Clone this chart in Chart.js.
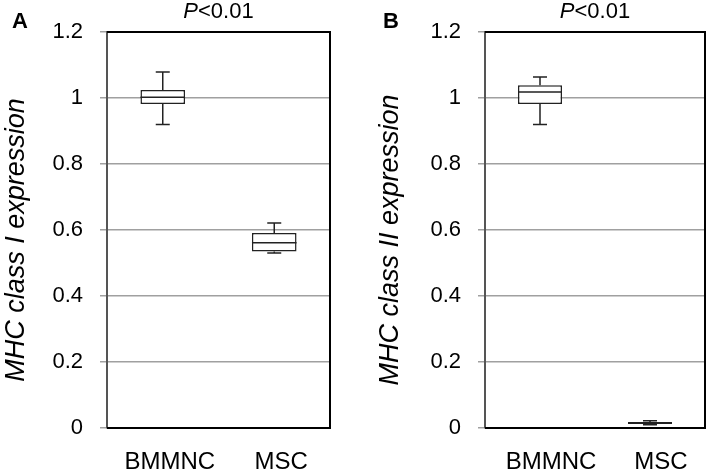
<!DOCTYPE html>
<html>
<head>
<meta charset="utf-8">
<script src="https://cdn.jsdelivr.net/npm/chart.js@4.4.1/dist/chart.umd.min.js"></script>
<style>
  html, body { margin: 0; padding: 0; background: #fff; }
  #wrap { position: relative; width: 709px; height: 470px; }
  canvas { position: absolute; top: 0; }
</style>
</head>
<body>
<div id="wrap">
  <canvas id="chartA" width="354" height="470" style="left:0"></canvas>
  <canvas id="chartB" width="333" height="470" style="left:376px"></canvas>
</div>
<script>
const categories = ["BMMNC", "MSC"];
const yTicks = [0, 0.2, 0.4, 0.6, 0.8, 1, 1.2];

// panel A - MHC class I
const minA = [0.92, 0.53];
const q1A = [0.982, 0.535];
const medA = [1.002, 0.561];
const q3A = [1.024, 0.591];
const maxA = [1.079, 0.621];

// panel B - MHC class II
const minB = [0.92, 0.01];
const q1B = [0.982, 0.012];
const medB = [1.018, 0.015];
const q3B = [1.039, 0.018];
const maxB = [1.064, 0.022];

const FONT = "'Liberation Sans', Arial, sans-serif";

// whiskers, medians, frame, axis title, panel letter and P value
const boxExtras = {
  id: "boxExtras",
  afterDatasetsDraw(chart, args, opts) {
    const ctx = chart.ctx;
    const y = chart.scales.y;
    const area = chart.chartArea;
    const meta = chart.getDatasetMeta(0);
    ctx.save();
    ctx.strokeStyle = "#222";
    ctx.lineWidth = 1.5;
    meta.data.forEach((bar, i) => {
      const x = bar.x;
      const half = bar.width / 2;
      const cap = 7;
      const yMin = y.getPixelForValue(opts.min[i]);
      const yMax = y.getPixelForValue(opts.max[i]);
      const yQ1 = y.getPixelForValue(opts.q1[i]);
      const yQ3 = y.getPixelForValue(opts.q3[i]);
      const yMed = y.getPixelForValue(opts.med[i]);
      ctx.beginPath();
      ctx.moveTo(x, yQ3); ctx.lineTo(x, yMax);
      ctx.moveTo(x - cap, yMax); ctx.lineTo(x + cap, yMax);
      ctx.moveTo(x, yQ1); ctx.lineTo(x, yMin);
      ctx.moveTo(x - cap, yMin); ctx.lineTo(x + cap, yMin);
      ctx.moveTo(x - half, yMed); ctx.lineTo(x + half, yMed);
      ctx.stroke();
    });
    // frame top / right / bottom
    ctx.strokeStyle = "#000";
    ctx.lineWidth = 2;
    ctx.beginPath();
    ctx.moveTo(area.left, area.top);
    ctx.lineTo(area.right, area.top);
    ctx.lineTo(area.right, area.bottom);
    ctx.lineTo(area.left, area.bottom);
    ctx.stroke();
    ctx.fillStyle = "#000";
    // y axis title
    ctx.save();
    ctx.translate(opts.titleX, 240);
    ctx.rotate(-Math.PI / 2);
    ctx.textAlign = "center";
    ctx.textBaseline = "middle";
    ctx.font = "italic 27px " + FONT;
    ctx.fillText(opts.yTitle, 0, 0);
    ctx.restore();
    // panel letter
    ctx.textBaseline = "alphabetic";
    ctx.textAlign = "left";
    ctx.font = "bold 22px " + FONT;
    ctx.fillText(opts.letter, opts.letterX, 28);
    // P<0.01 with italic P
    ctx.font = "italic 22px " + FONT;
    const wP = ctx.measureText("P").width;
    ctx.font = "22px " + FONT;
    const wRest = ctx.measureText("<0.01").width;
    const cx = (area.left + area.right) / 2;
    const sx = cx - (wP + wRest) / 2;
    ctx.font = "italic 22px " + FONT;
    ctx.fillText("P", sx, 18);
    ctx.font = "22px " + FONT;
    ctx.fillText("<0.01", sx + wP, 18);
    ctx.restore();
  }
};

function makeChart(id, yTitle, q1, q3, med, min, max, letter, letterX, titleX, plotLeft, rightPad, labelShift) {
  return new Chart(document.getElementById(id), {
    type: "bar",
    data: {
      labels: categories,
      datasets: [{
        data: categories.map((c, i) => [q1[i], q3[i]]),
        backgroundColor: "#fff",
        borderColor: "#222",
        borderWidth: 1.5,
        borderSkipped: false,
        barPercentage: 0.4,
        categoryPercentage: 1
      }]
    },
    options: {
      responsive: false,
      animation: false,
      devicePixelRatio: 1,
      layout: { padding: { top: 32, right: rightPad, left: 0, bottom: 0 } },
      plugins: {
        legend: { display: false },
        tooltip: { enabled: false },
        boxExtras: { q1, q3, med, min, max, letter, letterX, yTitle, titleX }
      },
      scales: {
        x: {
          grid: { display: false },
          border: { display: false },
          ticks: { color: "#000", font: { family: FONT, size: 24 }, padding: 12, labelOffset: labelShift },
          afterFit: (s) => { s.height = 42; }
        },
        y: {
          min: 0,
          max: 1.2,
          afterBuildTicks: (s) => { s.ticks = yTicks.map(v => ({ value: v })); },
          ticks: {
            color: "#000",
            font: { family: FONT, size: 22 },
            padding: 17,
            callback: (v) => String(+(+v).toFixed(1))
          },
          grid: { color: "#a0a0a0", lineWidth: 1.5, tickLength: 7 },
          border: { color: "#555", width: 2 },
          afterFit: (s) => { s.width = plotLeft; }
        }
      }
    },
    plugins: [boxExtras]
  });
}

makeChart("chartA", "MHC class I expression", q1A, q3A, medA, minA, maxA, "A", 12, 16, 107, 24, 7);
makeChart("chartB", "MHC class II expression", q1B, q3B, medB, minB, maxB, "B", 7, 14, 109, 4, 11);
</script>
</body>
</html>
